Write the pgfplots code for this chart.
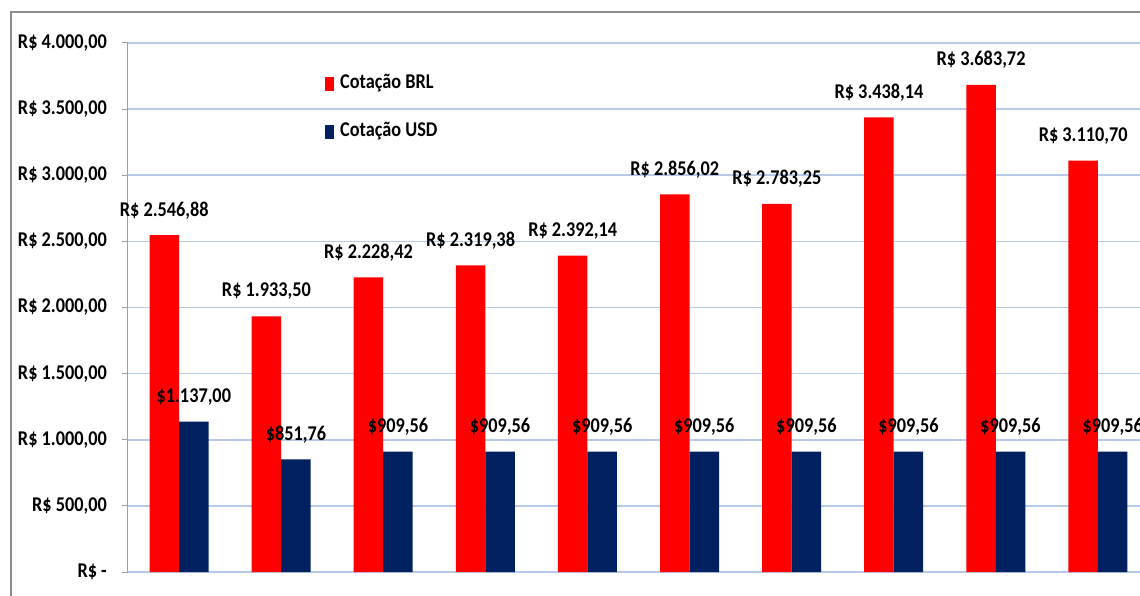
\documentclass[border=0pt]{standalone}
\usepackage{fontspec}
\setmainfont{Carlito}[FakeStretch=0.87]
\usepackage{pgfplots}
\pgfplotsset{compat=1.18}
\definecolor{brl}{HTML}{FF0000}
\definecolor{usd}{HTML}{002060}
\definecolor{gridc}{HTML}{B8CAEA}
\definecolor{axgray}{HTML}{A0A0A0}
\definecolor{bordc}{HTML}{8C8C8C}
\begin{document}
\begin{tikzpicture}[font=\bfseries\fontsize{21}{25}\selectfont]
\begin{axis}[name=ax, at={(0,0)}, anchor=south west,
  scale only axis, width=1021pt, height=529pt,
  xmin=-0.5, xmax=9.5, ymin=0, ymax=4000,
  axis x line=none, axis y line*=left,
  y axis line style={axgray, line width=1pt},
  ytick={0,500,...,4000},
  yticklabels={{R\$ -\hspace{8pt}},{R\$ 500,00},{R\$ 1.000,00},{R\$ 1.500,00},{R\$ 2.000,00},{R\$ 2.500,00},{R\$ 3.000,00},{R\$ 3.500,00},{R\$ 4.000,00}},
  tick align=outside, major tick length=6pt,
  ytick style={axgray, line width=1pt},
  ymajorgrids, grid style={gridc, line width=1.6pt},
  yticklabel style={inner sep=0pt, anchor=east, xshift=-15pt},
  ybar=0pt, bar width=29.5pt,
  /pgf/number format/.cd, fixed, fixed zerofill, precision=2, use comma, 1000 sep={.}, assume math mode=true,
  /pgfplots/.cd,
  every node near coord/.append style={anchor=center, yshift=25pt},
  legend style={draw=none, fill=none, at={(0.193,0.942)}, anchor=north west,
    inner sep=0pt, row sep=28pt, column sep=6pt,
    nodes={inner sep=0pt, text height=15pt, text depth=5pt}},
  legend cell align=left,
  every axis plot post/.append style={legend image code/.code={\fill[##1] (0pt,-7pt) rectangle (9pt,7pt);}},
]
\addplot[fill=brl, draw=none, nodes near coords={R\$ \pgfmathprintnumber{\pgfplotspointmeta}}]
  coordinates {(0,2546.88) (1,1933.50) (2,2228.42) (3,2319.38) (4,2392.14) (5,2856.02) (6,2783.25) (7,3438.14) (8,3683.72) (9,3110.70)};
\addplot[fill=usd, draw=none, nodes near coords={\$\pgfmathprintnumber{\pgfplotspointmeta}}]
  coordinates {(0,1137.00) (1,851.76) (2,909.56) (3,909.56) (4,909.56) (5,909.56) (6,909.56) (7,909.56) (8,909.56) (9,909.56)};
\legend{Cotação BRL, Cotação USD}
\end{axis}
\draw[bordc, line width=1.5pt] (ax.south west) ++(-117pt,-40pt) rectangle ++(1180pt,600pt);
\pgfresetboundingbox
\path[use as bounding box] (ax.south west) ++(-128pt,-23pt) rectangle ++(1140pt,595pt);
\end{tikzpicture}
\end{document}
